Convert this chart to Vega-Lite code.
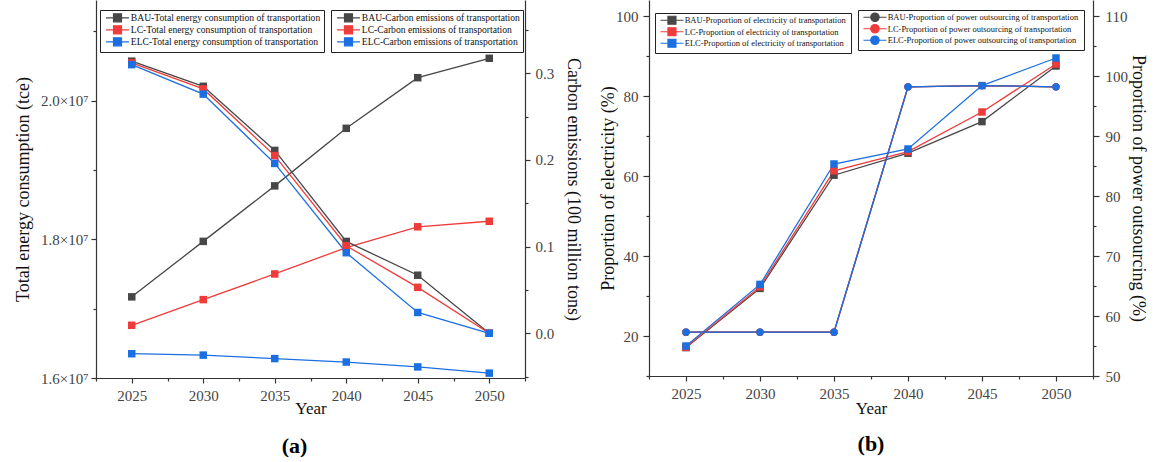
{
  "$schema": "https://vega.github.io/schema/vega-lite/v6.json",
  "padding": {"left": 14, "top": 0, "right": 0, "bottom": 0},
  "spacing": 17,
  "config": {
    "view": {"stroke": null},
    "font": "Liberation Serif",
    "axis": {
      "labelFont": "Liberation Serif", "titleFont": "Liberation Serif",
      "labelFontSize": 15, "titleFontSize": 18, "titleFontWeight": "normal",
      "labelColor": "#444", "titleColor": "#111",
      "domainColor": "#333", "tickColor": "#333", "domainWidth": 1.2, "tickWidth": 1.2,
      "grid": false, "labelOverlap": false, "labelFlush": false
    },
    "legend": {
      "labelFont": "Liberation Serif", "labelColor": "#111", "labelLimit": 400,
      "fillColor": "white", "strokeColor": "#222", "padding": 3, "rowPadding": -2,
      "symbolSize": 36, "symbolStrokeWidth": 1.2, "symbolOffset": 9.7, "labelOffset": 8.5,
      "orient": "none", "direction": "vertical"
    }
  },
  "datasets": {
    "a": [
      {"year": 2025, "scenario": "BAU", "energy": 17170000, "carbon": 0.314},
      {"year": 2030, "scenario": "BAU", "energy": 17970000, "carbon": 0.285},
      {"year": 2035, "scenario": "BAU", "energy": 18770000, "carbon": 0.211},
      {"year": 2040, "scenario": "BAU", "energy": 19600000, "carbon": 0.106},
      {"year": 2045, "scenario": "BAU", "energy": 20330000, "carbon": 0.067},
      {"year": 2050, "scenario": "BAU", "energy": 20610000, "carbon": 0.0},
      {"year": 2025, "scenario": "LC", "energy": 16760000, "carbon": 0.312},
      {"year": 2030, "scenario": "LC", "energy": 17130000, "carbon": 0.282},
      {"year": 2035, "scenario": "LC", "energy": 17500000, "carbon": 0.205},
      {"year": 2040, "scenario": "LC", "energy": 17880000, "carbon": 0.101},
      {"year": 2045, "scenario": "LC", "energy": 18180000, "carbon": 0.053},
      {"year": 2050, "scenario": "LC", "energy": 18260000, "carbon": 0.0},
      {"year": 2025, "scenario": "ELC", "energy": 16350000, "carbon": 0.310},
      {"year": 2030, "scenario": "ELC", "energy": 16330000, "carbon": 0.276},
      {"year": 2035, "scenario": "ELC", "energy": 16280000, "carbon": 0.196},
      {"year": 2040, "scenario": "ELC", "energy": 16230000, "carbon": 0.093},
      {"year": 2045, "scenario": "ELC", "energy": 16160000, "carbon": 0.024},
      {"year": 2050, "scenario": "ELC", "energy": 16070000, "carbon": 0.0}
    ],
    "b": [
      {"year": 2025, "scenario": "BAU", "elec": 17.1, "outs": 57.3},
      {"year": 2030, "scenario": "BAU", "elec": 31.9, "outs": 57.3},
      {"year": 2035, "scenario": "BAU", "elec": 60.2, "outs": 57.3},
      {"year": 2040, "scenario": "BAU", "elec": 65.7, "outs": 98.2},
      {"year": 2045, "scenario": "BAU", "elec": 73.6, "outs": 98.4},
      {"year": 2050, "scenario": "BAU", "elec": 87.5, "outs": 98.2},
      {"year": 2025, "scenario": "LC", "elec": 17.2, "outs": 57.3},
      {"year": 2030, "scenario": "LC", "elec": 32.3, "outs": 57.3},
      {"year": 2035, "scenario": "LC", "elec": 61.3, "outs": 57.3},
      {"year": 2040, "scenario": "LC", "elec": 66.1, "outs": 98.2},
      {"year": 2045, "scenario": "LC", "elec": 76.0, "outs": 98.4},
      {"year": 2050, "scenario": "LC", "elec": 88.0, "outs": 98.2},
      {"year": 2025, "scenario": "ELC", "elec": 17.5, "outs": 57.3},
      {"year": 2030, "scenario": "ELC", "elec": 32.9, "outs": 57.3},
      {"year": 2035, "scenario": "ELC", "elec": 63.0, "outs": 57.3},
      {"year": 2040, "scenario": "ELC", "elec": 66.75, "outs": 98.2},
      {"year": 2045, "scenario": "ELC", "elec": 82.6, "outs": 98.4},
      {"year": 2050, "scenario": "ELC", "elec": 89.5, "outs": 98.2}
    ]
  },
  "hconcat": [
    {
      "width": 429, "height": 378,
      "data": {"name": "a"},
      "title": {"text": "(a)", "orient": "bottom", "anchor": "middle", "fontSize": 22, "font": "Liberation Serif", "fontWeight": "bold", "offset": 20, "dx": -16, "color": "#000"},
      "layer": [
        {
          "mark": {"type": "line", "strokeWidth": 1.3, "point": {"shape": "square", "size": 56, "filled": true, "opacity": 1}},
          "encoding": {
            "x": {"field": "year", "type": "quantitative",
              "scale": {"domain": [2022.5, 2052.5], "nice": false, "zero": false},
              "axis": {"title": "Year", "values": [2022.5, 2025, 2027.5, 2030, 2032.5, 2035, 2037.5, 2040, 2042.5, 2045, 2047.5, 2050, 2052.5],
                "labelExpr": "datum.value % 5 === 0 ? format(datum.value, 'd') : ''",
                "tickSize": {"condition": {"test": "datum.value % 5 === 0", "value": 5}, "value": 3},
                "labelPadding": 5, "titleFontSize": 17, "titlePadding": -3}},
            "y": {"field": "energy", "type": "quantitative",
              "scale": {"domain": [16000000, 21450000], "nice": false, "zero": false},
              "axis": {"title": "Total energy consumption (tce)", "values": [16000000, 17000000, 18000000, 19000000, 20000000, 21000000],
                "labelExpr": "datum.value % 2000000 === 0 ? format(datum.value / 10000000, '.1f') + '×10⁷' : ''",
                "tickSize": {"condition": {"test": "datum.value % 2000000 === 0", "value": 5}, "value": 3},
                "labelPadding": 3, "titlePadding": 8}},
            "color": {"field": "scenario", "type": "nominal",
              "scale": {"domain": ["BAU", "LC", "ELC"], "range": ["#474747", "#f03b3b", "#1b6fe0"]},
              "legend": {"legendX": 4, "legendY": 10, "title": null, "labelFontSize": 9.6,
                "symbolType": "M-3.833,0H-1.333M1.333,0H3.833M-1.333,-1.333H1.333V1.333H-1.333Z",
                "labelExpr": "datum.label + '-Total energy consumption of transportation'",
                "encode": {"symbols": {"update": {
                  "fill": {"signal": "datum.value === 'BAU' ? '#474747' : datum.value === 'LC' ? '#f03b3b' : '#1b6fe0'"},
                  "stroke": {"signal": "datum.value === 'BAU' ? '#474747' : datum.value === 'LC' ? '#f03b3b' : '#1b6fe0'"},
                  "opacity": {"value": 1}}}}}}
          }
        },
        {
          "mark": {"type": "line", "strokeWidth": 1.3, "point": {"shape": "square", "size": 56, "filled": true, "opacity": 1}},
          "encoding": {
            "x": {"field": "year", "type": "quantitative",
              "scale": {"domain": [2022.5, 2052.5], "nice": false, "zero": false},
              "axis": {"title": "Year", "values": [2022.5, 2025, 2027.5, 2030, 2032.5, 2035, 2037.5, 2040, 2042.5, 2045, 2047.5, 2050, 2052.5],
                "labelExpr": "datum.value % 5 === 0 ? format(datum.value, 'd') : ''",
                "tickSize": {"condition": {"test": "datum.value % 5 === 0", "value": 5}, "value": 3},
                "labelPadding": 5, "titleFontSize": 17, "titlePadding": -3}},
            "y": {"field": "carbon", "type": "quantitative",
              "scale": {"domain": [-0.0516, 0.3846], "nice": false, "zero": false},
              "axis": {"orient": "right", "title": "Carbon emissions (100 million tons)",
                "values": [-0.05, 0, 0.05, 0.1, 0.15, 0.2, 0.25, 0.3, 0.35],
                "labelExpr": "abs(datum.value * 10 - round(datum.value * 10)) < 0.000001 ? format(datum.value, '.1f') : ''",
                "tickSize": {"condition": {"test": "abs(datum.value * 10 - round(datum.value * 10)) < 0.000001", "value": 5}, "value": 3},
                "labelPadding": 5, "titlePadding": 10}},
            "color": {"field": "scenario", "type": "nominal",
              "scale": {"domain": ["BAU", "LC", "ELC"], "range": ["#474747", "#f03b3b", "#1b6fe0"]},
              "legend": {"legendX": 235, "legendY": 10, "title": null, "labelFontSize": 9.6,
                "symbolType": "M-3.833,0H-1.333M1.333,0H3.833M-1.333,-1.333H1.333V1.333H-1.333Z",
                "labelExpr": "datum.label + '-Carbon emissions of transportation'",
                "encode": {"symbols": {"update": {
                  "fill": {"signal": "datum.value === 'BAU' ? '#474747' : datum.value === 'LC' ? '#f03b3b' : '#1b6fe0'"},
                  "stroke": {"signal": "datum.value === 'BAU' ? '#474747' : datum.value === 'LC' ? '#f03b3b' : '#1b6fe0'"},
                  "opacity": {"value": 1}}}}}}
          }
        }
      ],
      "resolve": {"scale": {"y": "independent", "color": "independent"}, "legend": {"color": "independent"}}
    },
    {
      "width": 444, "height": 376,
      "data": {"name": "b"},
      "title": {"text": "(b)", "orient": "bottom", "anchor": "middle", "fontSize": 22, "font": "Liberation Serif", "fontWeight": "bold", "offset": 18, "color": "#000"},
      "layer": [
        {
          "mark": {"type": "line", "strokeWidth": 1.3, "point": {"shape": "square", "size": 56, "filled": true, "opacity": 1}},
          "encoding": {
            "x": {"field": "year", "type": "quantitative",
              "scale": {"domain": [2022.5, 2052.5], "nice": false, "zero": false},
              "axis": {"title": "Year", "values": [2022.5, 2025, 2027.5, 2030, 2032.5, 2035, 2037.5, 2040, 2042.5, 2045, 2047.5, 2050, 2052.5],
                "labelExpr": "datum.value % 5 === 0 ? format(datum.value, 'd') : ''",
                "tickSize": {"condition": {"test": "datum.value % 5 === 0", "value": 5}, "value": 3},
                "labelPadding": 5, "titleFontSize": 17, "titlePadding": -1}},
            "y": {"field": "elec", "type": "quantitative",
              "scale": {"domain": [10, 104], "nice": false, "zero": false},
              "axis": {"title": "Proportion of electricity (%)", "values": [10, 20, 30, 40, 50, 60, 70, 80, 90, 100],
                "labelExpr": "datum.value % 20 === 0 ? format(datum.value, 'd') : ''",
                "tickSize": {"condition": {"test": "datum.value % 20 === 0", "value": 6}, "value": 3},
                "labelPadding": 5, "titlePadding": -2}},
            "color": {"field": "scenario", "type": "nominal",
              "scale": {"domain": ["BAU", "LC", "ELC"], "range": ["#474747", "#f03b3b", "#1b6fe0"]},
              "legend": {"legendX": 6, "legendY": 13, "title": null, "labelFontSize": 8.5, "rowPadding": -2.5,
                "symbolType": "M-3.833,0H-1.333M1.333,0H3.833M-1.333,-1.333H1.333V1.333H-1.333Z",
                "labelExpr": "datum.label + '-Proportion of electricity  of transportation'",
                "encode": {"symbols": {"update": {
                  "fill": {"signal": "datum.value === 'BAU' ? '#474747' : datum.value === 'LC' ? '#f03b3b' : '#1b6fe0'"},
                  "stroke": {"signal": "datum.value === 'BAU' ? '#474747' : datum.value === 'LC' ? '#f03b3b' : '#1b6fe0'"},
                  "opacity": {"value": 1}}}}}}
          }
        },
        {
          "mark": {"type": "line", "strokeWidth": 1.3, "point": {"shape": "circle", "size": 54, "filled": true, "opacity": 1}},
          "encoding": {
            "x": {"field": "year", "type": "quantitative",
              "scale": {"domain": [2022.5, 2052.5], "nice": false, "zero": false},
              "axis": {"title": "Year", "values": [2022.5, 2025, 2027.5, 2030, 2032.5, 2035, 2037.5, 2040, 2042.5, 2045, 2047.5, 2050, 2052.5],
                "labelExpr": "datum.value % 5 === 0 ? format(datum.value, 'd') : ''",
                "tickSize": {"condition": {"test": "datum.value % 5 === 0", "value": 5}, "value": 3},
                "labelPadding": 5, "titleFontSize": 17, "titlePadding": -1}},
            "y": {"field": "outs", "type": "quantitative",
              "scale": {"domain": [50, 112.667], "nice": false, "zero": false},
              "axis": {"orient": "right", "title": "Proportion of power outsourcing (%)",
                "values": [50, 55, 60, 65, 70, 75, 80, 85, 90, 95, 100, 105, 110],
                "labelExpr": "datum.value % 10 === 0 ? format(datum.value, 'd') : ''",
                "tickSize": {"condition": {"test": "datum.value % 10 === 0", "value": 6}, "value": 3},
                "labelPadding": 6, "titlePadding": 1}},
            "color": {"field": "scenario", "type": "nominal",
              "scale": {"domain": ["BAU", "LC", "ELC"], "range": ["#474747", "#f03b3b", "#1b6fe0"]},
              "legend": {"legendX": 209, "legendY": 10, "title": null, "labelFontSize": 8.5, "rowPadding": -2.5,
                "symbolType": "M-3.833,0H-1.4M1.4,0H3.833M1.4,0A1.4,1.4,0,1,1,-1.4,0A1.4,1.4,0,1,1,1.4,0Z",
                "labelExpr": "datum.label + '-Proportion of power outsourcing  of transportation'",
                "encode": {"symbols": {"update": {
                  "fill": {"signal": "datum.value === 'BAU' ? '#474747' : datum.value === 'LC' ? '#f03b3b' : '#1b6fe0'"},
                  "stroke": {"signal": "datum.value === 'BAU' ? '#474747' : datum.value === 'LC' ? '#f03b3b' : '#1b6fe0'"},
                  "opacity": {"value": 1}}}}}}
          }
        }
      ],
      "resolve": {"scale": {"y": "independent", "color": "independent"}, "legend": {"color": "independent"}}
    }
  ]
}
